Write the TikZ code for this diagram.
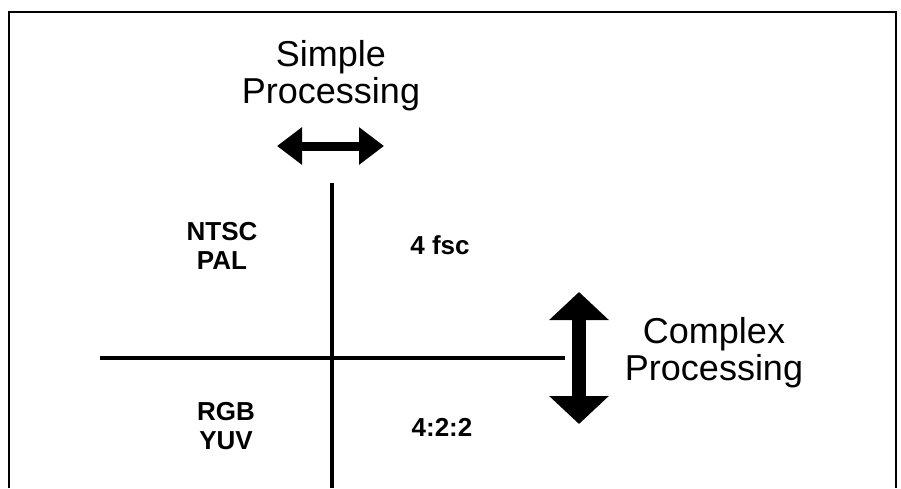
\documentclass[tikz,border=0pt]{standalone}
\usepackage{fontspec}
\setmainfont{Liberation Sans}
\usetikzlibrary{arrows.meta}

\begin{document}
\begin{tikzpicture}[x=1pt,y=-1pt,
		big/.style={align=center,font=\fontsize{36}{37}\selectfont},
		small/.style={align=center,font=\fontsize{26}{29}\selectfont\bfseries},
		axis/.style={line width=3.5pt}]
			\useasboundingbox (0,0) rectangle (901,488);
			\draw[line width=1.5pt] (9,488) -- (9,12) -- (896,12) -- (896,488);
			% axes
			\coordinate (vt) at (332,183);
			\coordinate (vb) at (332,488);
			\coordinate (hl) at (100,358);
			\coordinate (hr) at (565,358);
			\draw[axis] (vt) -- (vb);
			\draw[axis] (hl) -- (hr);
			% labels
			\node[big] (simple) at (331,76) {Simple\\Processing};
			\node[big] (complex) at (714,353) {Complex\\Processing};
			\node[small] (ntsc) at (222,246) {NTSC\\PAL};
			\node[small] (fsc) at (440,245) {4 fsc};
			\node[small] (rgb) at (226,426) {RGB\\YUV};
			\node[small] (yuv) at (442,427) {4:2:2};
			% arrows
			\coordinate (sl) at (277,146);
			\coordinate (sr) at (384,146);
			\coordinate (ct) at (579,292);
			\coordinate (cb) at (579,424);
			\draw[line width=9pt,{Triangle[length=25pt,width=36pt]}-{Triangle[length=25pt,width=36pt]}] (sl) -- (sr);
			\draw[line width=14pt,{Triangle[length=28pt,width=58pt]}-{Triangle[length=28pt,width=58pt]}] (ct) -- (cb);
		\end{tikzpicture}
\end{document}
